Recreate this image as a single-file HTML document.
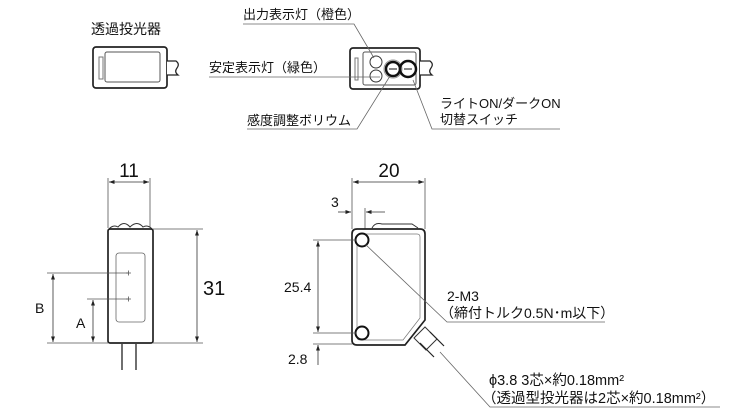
<!DOCTYPE html>
<html><head><meta charset="utf-8"><style>
body{margin:0;background:#fff}
svg{display:block}
text{font-family:"Liberation Sans","Noto Sans CJK JP",sans-serif;fill:#111}
</style></head><body>
<svg width="730" height="415" viewBox="0 0 730 415" xmlns="http://www.w3.org/2000/svg">
<defs>
<marker id="a" markerWidth="8" markerHeight="6" refX="7" refY="3" orient="auto-start-reverse"><path d="M0,0.5 L7,3 L0,5.5" fill="#222"/></marker>
</defs>
<!-- top-left -->
<text x="91" y="34" font-size="14">透過投光器</text>
<rect x="93" y="47" width="74" height="41" rx="3" fill="#fff" stroke="#222" stroke-width="1.7"/>
<rect x="105" y="52" width="55" height="30" rx="2" fill="none" stroke="#555"/>
<rect x="99" y="57" width="4" height="22" fill="none" stroke="#777"/>
<path d="M167,61 H176 Q180,64 177,68 Q174,72 178,75 H167" fill="#fff" stroke="#222" stroke-width="1.2"/>
<!-- top-middle -->
<rect x="350" y="48" width="70" height="41" rx="3" fill="#fff" stroke="#222" stroke-width="1.7"/>
<rect x="363" y="52" width="53" height="33" rx="2" fill="none" stroke="#555"/>
<rect x="355" y="58" width="3" height="22" fill="none" stroke="#777"/>
<path d="M420,61 H430 Q434,64 431,68 Q428,72 432,75 H420" fill="#fff" stroke="#222" stroke-width="1.2"/>
<circle cx="376" cy="62" r="6" fill="none" stroke="#333"/>
<circle cx="376" cy="76" r="6" fill="none" stroke="#333"/>
<circle cx="393" cy="69" r="9" fill="none" stroke="#999"/>
<circle cx="393" cy="69" r="7" fill="none" stroke="#111" stroke-width="2.5"/>
<line x1="389" y1="69" x2="397" y2="69" stroke="#111"/>
<circle cx="408" cy="69" r="8" fill="none" stroke="#111" stroke-width="2.5"/>
<line x1="404" y1="69" x2="412" y2="69" stroke="#111"/>
<text x="243" y="19" font-size="13">出力表示灯（橙色）</text>
<polyline points="243,24 354,24 374,58" fill="none" stroke="#666" stroke-width="0.8"/>
<text x="209" y="72" font-size="13">安定表示灯（緑色）</text>
<line x1="209" y1="77" x2="380" y2="77" stroke="#666" stroke-width="0.8"/>
<text x="247" y="125" font-size="13">感度調整ボリウム</text>
<polyline points="247,129 357,129 390,76" fill="none" stroke="#666" stroke-width="0.8"/>
<text x="440" y="108" font-size="13">ライトON/ダークON</text>
<text x="440" y="124" font-size="13">切替スイッチ</text>
<polyline points="560,129 432,129 413,80" fill="none" stroke="#666" stroke-width="0.8"/>
<!-- bottom-left -->
<line x1="108" y1="178" x2="108" y2="228" stroke="#555" stroke-width="0.8"/>
<line x1="150" y1="178" x2="150" y2="228" stroke="#555" stroke-width="0.8"/>
<line x1="109" y1="182" x2="149" y2="182" stroke="#333" stroke-width="0.8" marker-start="url(#a)" marker-end="url(#a)"/>
<text x="129" y="177" font-size="19" text-anchor="middle">11</text>
<path d="M108,230 Q113,224 118,227 Q124,220 130,227 Q137,220 143,227 Q148,224 153,230" fill="#fff" stroke="#333"/>
<rect x="108" y="229" width="45" height="114" rx="2" fill="#fff" stroke="#222" stroke-width="1.7"/>
<rect x="116" y="253" width="29" height="69" rx="3" fill="none" stroke="#666" stroke-width="0.8"/>
<line x1="153" y1="229" x2="203" y2="229" stroke="#555" stroke-width="0.8"/>
<line x1="153" y1="343" x2="203" y2="343" stroke="#555" stroke-width="0.8"/>
<line x1="197" y1="230" x2="197" y2="342" stroke="#333" stroke-width="0.8" marker-start="url(#a)" marker-end="url(#a)"/>
<text x="203" y="295" font-size="20">31</text>
<line x1="47" y1="273" x2="128" y2="273" stroke="#555" stroke-width="0.8"/>
<line x1="87" y1="299" x2="128" y2="299" stroke="#555" stroke-width="0.8"/>
<path d="M126,273 h5 M128.5,270.5 v5 M126,299 h5 M128.5,296.5 v5" stroke="#555" stroke-width="0.8"/>
<line x1="47" y1="343" x2="108" y2="343" stroke="#555" stroke-width="0.8"/>
<line x1="53" y1="274" x2="53" y2="342" stroke="#333" stroke-width="0.8" marker-start="url(#a)" marker-end="url(#a)"/>
<line x1="93" y1="300" x2="93" y2="342" stroke="#333" stroke-width="0.8" marker-start="url(#a)" marker-end="url(#a)"/>
<text x="35" y="313" font-size="14">B</text>
<text x="76" y="328" font-size="14">A</text>
<path d="M122,344 V370 M136,344 V370" stroke="#222" stroke-width="1.3"/>
<!-- bottom-right -->
<line x1="352" y1="178" x2="352" y2="229" stroke="#555" stroke-width="0.8"/>
<line x1="425" y1="178" x2="425" y2="229" stroke="#555" stroke-width="0.8"/>
<line x1="353" y1="182" x2="424" y2="182" stroke="#333" stroke-width="0.8" marker-start="url(#a)" marker-end="url(#a)"/>
<text x="389" y="177" font-size="19" text-anchor="middle">20</text>
<line x1="365" y1="208" x2="365" y2="236" stroke="#555" stroke-width="0.8"/>
<line x1="338" y1="212" x2="351" y2="212" stroke="#333" stroke-width="0.8" marker-end="url(#a)"/>
<line x1="385" y1="212" x2="366" y2="212" stroke="#333" stroke-width="0.8" marker-end="url(#a)"/>
<text x="331" y="207" font-size="14">3</text>
<path d="M372,228 Q375,222 382,224 H412 L418,228" fill="#fff" stroke="#333"/>
<path d="M352,234 Q352,229 357,229 H420 Q425,229 425,234 V320 L405,345 H357 Q352,345 352,340 Z" fill="#fff" stroke="#222" stroke-width="1.7"/>
<path d="M357,237 Q357,234 360,234 H417 Q420,234 420,237 V318 L403,340 H360 Q357,340 357,337 Z" fill="none" stroke="#777" stroke-width="0.7"/>
<circle cx="362" cy="240" r="6.5" fill="#fff" stroke="#111" stroke-width="2"/>
<circle cx="362" cy="333" r="6.5" fill="#fff" stroke="#111" stroke-width="2"/>
<path d="M414,338 L425,327 L437,339 L426,350 Z" fill="#fff" stroke="#333"/>
<path d="M430,332 L444,346 M420,343 L434,357" stroke="#222" stroke-width="1.2"/>
<line x1="313" y1="240" x2="356" y2="240" stroke="#555" stroke-width="0.8"/>
<line x1="313" y1="333" x2="356" y2="333" stroke="#555" stroke-width="0.8"/>
<line x1="313" y1="344" x2="352" y2="344" stroke="#555" stroke-width="0.8"/>
<line x1="318" y1="241" x2="318" y2="332" stroke="#333" stroke-width="0.8" marker-start="url(#a)" marker-end="url(#a)"/>
<line x1="318" y1="365" x2="318" y2="345" stroke="#333" stroke-width="0.8" marker-end="url(#a)"/>
<text x="284" y="292" font-size="14">25.4</text>
<text x="288" y="364" font-size="14">2.8</text>
<polyline points="365,244 447,322 605,322" fill="none" stroke="#666" stroke-width="0.8"/>
<text x="447" y="301" font-size="14">2-M3</text>
<text x="440" y="318" font-size="14">（締付トルク0.5N･m以下）</text>
<polyline points="440,352 490,407 720,407" fill="none" stroke="#666" stroke-width="0.8"/>
<text x="489" y="385" font-size="14.5">ϕ3.8 3芯×約0.18mm²</text>
<text x="482" y="403" font-size="14.5">（透過型投光器は2芯×約0.18mm²）</text>
</svg>
</body></html>
